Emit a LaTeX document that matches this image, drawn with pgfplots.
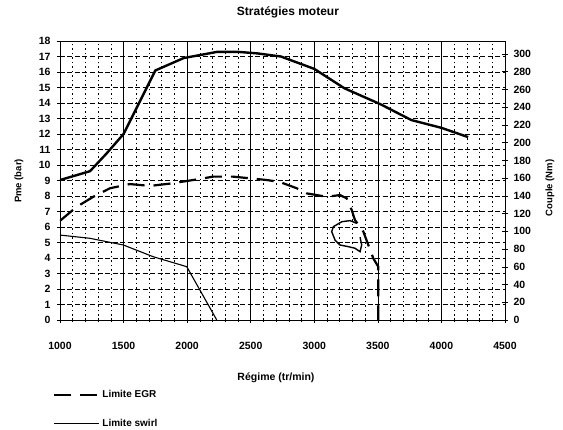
\documentclass[border=0pt]{standalone}
\usepackage{fontspec}
\setmainfont{Liberation Sans}
\usepackage{pgfplots}
\pgfplotsset{compat=1.18}
\begin{document}
\begin{tikzpicture}
\useasboundingbox (0pt,0pt) rectangle (563pt,429pt);
\begin{axis}[
  at={(60pt,109pt)}, anchor=south west, scale only axis,
  width=445pt, height=279pt,
  xmin=1000, xmax=4500, ymin=0, ymax=18,
  xtick={1000,1500,...,4500}, minor x tick num=4,
  ytick={0,1,...,18},
  tick pos=left, tick align=center,
  major tick length=6pt, minor tick length=4pt,
  every tick/.style={black, line width=0.6pt},
  axis line style={black, line width=0.9pt},
  grid=both,
  major x grid style={black, line width=0.6pt},
  minor x grid style={black, line width=0.6pt, dash pattern=on 1.5pt off 3pt},
  major y grid style={black, line width=0.6pt, dash pattern=on 5pt off 2.5pt},
  /pgf/number format/assume math mode=true,
  /pgf/number format/1000 sep={},
  xticklabel style={font=\fontsize{10.5}{11}\selectfont\bfseries, yshift=-16pt},
  yticklabel style={font=\fontsize{10.5}{11}\selectfont\bfseries, xshift=-3pt},
  legend style={at={(-0.0157,-0.245)}, anchor=north west, draw=none, fill=none,
    inner sep=0pt, font=\fontsize{10}{11}\selectfont\bfseries, row sep=16pt},
  legend cell align=left,
  legend image code/.code={\draw[#1] (0pt,0pt) -- (45pt,0pt);},
]
% full-load curve
\addplot[black, line width=2.4pt, forget plot] coordinates {
 (1000,9.03) (1236,9.6) (1367,10.75) (1500,12.0) (1750,16.1) (1973,16.9)
 (2237,17.3) (2400,17.3) (2553,17.2) (2737,17.0) (3000,16.2) (3237,14.95)
 (3526,13.9) (3763,12.9) (3999,12.4) (4210,11.8)};
% Limite EGR
\addplot[black, line width=2.2pt, dash pattern=on 17pt off 9pt] coordinates {
 (1000,6.4) (1131,7.3) (1262,7.95) (1393,8.5) (1550,8.77) (1708,8.65)
 (1865,8.8) (2101,9.1) (2204,9.25) (2361,9.25) (2628,9.03) (2730,8.9)
 (2862,8.5) (2940,8.17) (3097,7.95) (3202,8.06) (3255,7.85) (3294,7.1)
 (3320,6.45) (3386,5.7) (3425,4.84) (3464,3.98) (3503,3.44) (3503,0)};
\addlegendentry{Limite EGR}
% Limite swirl
\addplot[black, line width=1.1pt] coordinates {
 (1000,5.48) (1236,5.27) (1498,4.84) (1734,4.08) (1997,3.44) (2233,0)};
\addlegendentry{Limite swirl}
% hand-drawn loop
\addplot[black, line width=1.4pt, forget plot] coordinates {
 (3333,6.24) (3281,6.41) (3216,6.34) (3150,6.02) (3137,5.70) (3163,5.16)
 (3202,4.84) (3268,4.73) (3320,4.63) (3360,4.41) (3373,4.84) (3360,5.34)};
\end{axis}
\begin{axis}[
  at={(60pt,109pt)}, anchor=south west, scale only axis,
  width=445pt, height=279pt,
  xmin=1000, xmax=4500, ymin=0, ymax=314.7,
  axis x line=none, axis y line*=right,
  ytick={0,20,...,300},
  tick align=center, major tick length=6pt,
  every tick/.style={black, line width=0.6pt},
  axis line style={black, line width=0.9pt},
  /pgf/number format/assume math mode=true,
  yticklabel style={font=\fontsize{10.5}{11}\selectfont\bfseries, xshift=2pt},
]
\end{axis}
\node[font=\fontsize{12}{13}\selectfont\bfseries] at (288pt,417pt) {Stratégies moteur};
\node[font=\fontsize{10.5}{11}\selectfont\bfseries] at (276pt,51pt) {Régime (tr/min)};
\node[rotate=90, font=\fontsize{9.5}{10}\selectfont\bfseries] at (19pt,248pt) {Pme (bar)};
\node[rotate=90, font=\fontsize{9.5}{10}\selectfont\bfseries] at (550pt,241pt) {Couple (Nm)};
\end{tikzpicture}
\end{document}
